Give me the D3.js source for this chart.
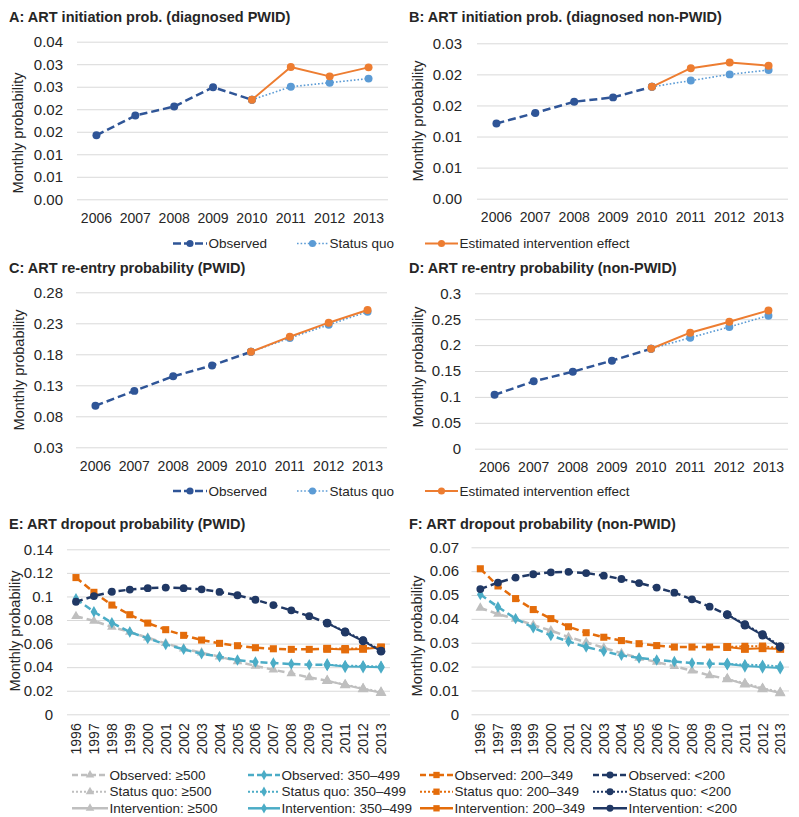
<!DOCTYPE html>
<html><head><meta charset="utf-8">
<script src="https://cdn.jsdelivr.net/npm/d3@7"></script>
<style>
body{margin:0;background:#fff}
svg{display:block}
text{font-family:"Liberation Sans",Arial,sans-serif;fill:#262626}
</style>
</head><body>
<svg id="c" width="799" height="817"></svg>
<script>
// ---------- DATA ----------
const yearsAD = ["2006","2007","2008","2009","2010","2011","2012","2013"];
const obsYearsAD = ["2006","2007","2008","2009","2010"];
const projYearsAD = ["2010","2011","2012","2013"];

const yearsEF = ["1996","1997","1998","1999","2000","2001","2002","2003","2004","2005","2006","2007","2008","2009","2010","2011","2012","2013"];
const obsYearsEF = yearsEF.slice(0, 15);
const projYearsEF = ["2010","2011","2012","2013"];

// Panel A
const aObserved = [0.0142, 0.0186, 0.0206, 0.0249, 0.0221];
const aStatusQuo = [0.0221, 0.0250, 0.0259, 0.0268];
const aIntervention = [0.0221, 0.0294, 0.0273, 0.0293];
const aTicks = [0, 0.005, 0.01, 0.015, 0.02, 0.025, 0.03, 0.035];
const aTickLabels = ["0.00","0.01","0.01","0.02","0.02","0.03","0.03","0.04"];

// Panel B
const bObserved = [0.0121, 0.0138, 0.0156, 0.0163, 0.0180];
const bStatusQuo = [0.0180, 0.0190, 0.0200, 0.0207];
const bIntervention = [0.0180, 0.0210, 0.0219, 0.0214];
const bTicks = [0, 0.005, 0.01, 0.015, 0.02, 0.025];
const bTickLabels = ["0.00","0.01","0.01","0.02","0.02","0.03"];

// Panel C
const cObserved = [0.097, 0.121, 0.1445, 0.162, 0.184];
const cStatusQuo = [0.184, 0.2063, 0.2277, 0.2487];
const cIntervention = [0.184, 0.2084, 0.231, 0.2515];
const cTicks = [0.03, 0.08, 0.13, 0.18, 0.23, 0.28];
const cTickLabels = ["0.03","0.08","0.13","0.18","0.23","0.28"];

// Panel D
const dObserved = [0.104, 0.130, 0.1486, 0.170, 0.193];
const dStatusQuo = [0.193, 0.2143, 0.235, 0.2568];
const dIntervention = [0.193, 0.224, 0.245, 0.267];
const dTicks = [0, 0.05, 0.1, 0.15, 0.2, 0.25, 0.3];
const dTickLabels = ["0","0.05","0.1","0.15","0.2","0.25","0.3"];

// Panel E (PWID dropout) by CD4 group
const eObs500 = [0.0832,0.0792,0.0741,0.0699,0.0650,0.0602,0.0557,0.0523,0.0489,0.0449,0.0410,0.0378,0.0347,0.0313,0.0284];
const eSq500 = [0.0284,0.0252,0.0220,0.0190];
const eInt500 = [0.0284,0.0248,0.0214,0.0183];
const eObs350 = [0.0980,0.0870,0.0777,0.0698,0.0644,0.0593,0.0551,0.0514,0.0489,0.0460,0.0444,0.0435,0.0427,0.0421,0.0421];
const eSq350 = [0.0421,0.0412,0.0410,0.0405];
const eInt350 = [0.0421,0.0405,0.0403,0.0400];
const eObs200 = [0.1160,0.1035,0.0927,0.0845,0.0774,0.0718,0.0670,0.0630,0.0602,0.0582,0.0565,0.0556,0.0551,0.0551,0.0556];
const eSq200 = [0.0556,0.0558,0.0560,0.0570];
const eInt200 = [0.0556,0.0550,0.0555,0.0566];
const eObsLow = [0.0955,0.1003,0.1040,0.1058,0.1070,0.1075,0.1070,0.1060,0.1038,0.1010,0.0972,0.0927,0.0882,0.0833,0.0774];
const eSqLow = [0.0774,0.0703,0.0630,0.0540];
const eIntLow = [0.0774,0.0698,0.0622,0.0535];
const eTicks = [0,0.02,0.04,0.06,0.08,0.1,0.12,0.14];
const eTickLabels = ["0","0.02","0.04","0.06","0.08","0.1","0.12","0.14"];

// Panel F (non-PWID dropout)
const fObs500 = [0.0446,0.0420,0.0400,0.0374,0.0351,0.0324,0.0302,0.0279,0.0256,0.0236,0.0219,0.0201,0.0183,0.0163,0.0148];
const fSq500 = [0.0148,0.0130,0.0110,0.0093];
const fInt500 = [0.0148,0.0126,0.0106,0.0089];
const fObs350 = [0.0502,0.0450,0.0401,0.0363,0.0330,0.0305,0.0282,0.0264,0.0247,0.0236,0.0228,0.0221,0.0215,0.0212,0.0211];
const fSq350 = [0.0211,0.0208,0.0206,0.0201];
const fInt350 = [0.0211,0.0202,0.0198,0.0194];
const fObs200 = [0.0610,0.0538,0.0485,0.0439,0.0401,0.0367,0.0342,0.0323,0.0309,0.0296,0.0288,0.0282,0.0282,0.0282,0.0282];
const fSq200 = [0.0282,0.0285,0.0286,0.0277];
const fInt200 = [0.0282,0.0274,0.0277,0.0274];
const fObsLow = [0.0525,0.0552,0.0573,0.0587,0.0595,0.0597,0.0592,0.0581,0.0567,0.0550,0.0531,0.0510,0.0482,0.0451,0.0418];
const fSqLow = [0.0418,0.0378,0.0336,0.0286];
const fIntLow = [0.0418,0.0374,0.0332,0.0282];
const fTicks = [0,0.01,0.02,0.03,0.04,0.05,0.06,0.07];
const fTickLabels = ["0","0.01","0.02","0.03","0.04","0.05","0.06","0.07"];

const titles = [
  "A: ART initiation prob. (diagnosed PWID)",
  "B: ART initiation prob. (diagnosed non-PWID)",
  "C: ART re-entry probability (PWID)",
  "D: ART re-entry probability (non-PWID)",
  "E: ART dropout probability (PWID)",
  "F: ART dropout probability (non-PWID)"
];
const yAxisTitle = "Monthly probability";
const legendTop = ["Observed","Status quo","Estimated intervention effect"];
const groupNames = ["\u2265500","350\u2013499","200\u2013349","<200"];
const statusNames = ["Observed: ","Status quo: ","Intervention: "];

// ---------- STYLE ----------
const FONT = '"Liberation Sans", Arial, sans-serif';
const C_OBS = "#2F5597", C_SQ = "#5B9BD5", C_INT = "#ED7D31";
const groupColors = ["#BFBFBF","#4BACC6","#E46C0A","#203864"];
const groupSymbols = [d3.symbolTriangle, d3.symbolDiamond, d3.symbolSquare, d3.symbolCircle];
const groupSizes = [40, 38, 50, 48];

const svg = d3.select("#c");
svg.append("rect").attr("width",799).attr("height",817).attr("fill","#fff");

function drawPanel(p) {
  const g = svg.append("g");
  const x = d3.scaleBand().domain(p.cats).range([p.left, p.right]);
  const y = d3.scaleLinear().domain(p.domain).range([p.bottom, p.top]);
  // gridlines
  g.append("g").attr("transform", `translate(${p.left},0)`)
    .call(d3.axisLeft(y).tickValues(p.ticks).tickSize(-(p.right - p.left)).tickFormat(""))
    .call(a => { a.select(".domain").remove(); a.selectAll("line").attr("stroke", "#D9D9D9").attr("stroke-width", 1); });
  // y tick labels
  g.append("g").attr("transform", `translate(${p.left},0)`)
    .call(d3.axisLeft(y).tickValues(p.ticks).tickSize(0).tickPadding(p.ypad).tickFormat((d, i) => p.labels[i]))
    .call(a => { a.select(".domain").remove(); a.attr("font-family", FONT).attr("font-size", 15);
      a.selectAll("text").attr("fill", "#262626"); });
  // x tick labels
  const xa = g.append("g").attr("transform", `translate(0,${p.bottom})`)
    .call(d3.axisBottom(x).tickSize(0).tickPadding(13.5))
    .call(a => { a.select(".domain").remove(); a.attr("font-family", FONT).attr("font-size", 14);
      a.selectAll("text").attr("fill", "#262626"); });
  if (p.rotate) {
    xa.selectAll("text").attr("y", 0).attr("x", -9).attr("dy", "0.36em")
      .attr("transform", "rotate(-90)").style("text-anchor", "end");
  }
  // title
  g.append("text").attr("x", p.tx).attr("y", p.ty).attr("font-size", 14.5).attr("font-weight", "bold")
    .text(p.title);
  // y axis title
  g.append("text").attr("transform", `translate(${p.yx},${p.yy}) rotate(-90)`)
    .attr("text-anchor", "middle").attr("dy", "0.35em").attr("font-size", 14.5).text(yAxisTitle);
  return { g, x, y };
}

function drawSeries(ctx, cats, vals, color, width, dash, sym, size) {
  const { g, x, y } = ctx;
  const pts = cats.map((c, i) => ({ c, v: vals[i] }));
  const cx = d => x(d.c) + x.bandwidth() / 2;
  g.append("path").datum(pts)
    .attr("d", d3.line().x(cx).y(d => y(d.v)))
    .attr("fill", "none").attr("stroke", color).attr("stroke-width", width)
    .attr("stroke-dasharray", dash).attr("stroke-linejoin", "round");
  g.selectAll(null).data(pts).enter().append("path")
    .attr("transform", d => `translate(${cx(d)},${y(d.v)})`)
    .attr("d", d3.symbol().type(sym).size(size)).attr("fill", color);
}

function drawAD(p, obs, sq, int) {
  const ctx = drawPanel(p);
  drawSeries(ctx, obsYearsAD, obs, C_OBS, 2.5, "8,4", d3.symbolCircle, 50);
  drawSeries(ctx, projYearsAD, sq, C_SQ, 1.6, "1.6,2", d3.symbolCircle, 50);
  drawSeries(ctx, projYearsAD, int, C_INT, 2, null, d3.symbolCircle, 50);
}

drawAD({ title: titles[0], tx: 9, ty: 22, cats: yearsAD, left: 77, right: 388, top: 41.7, bottom: 199.3,
  domain: [0, 0.035], ticks: aTicks, labels: aTickLabels, ypad: 14, yx: 18, yy: 133 }, aObserved, aStatusQuo, aIntervention);
drawAD({ title: titles[1], tx: 409, ty: 22, cats: yearsAD, left: 477, right: 788, top: 43.3, bottom: 198.7,
  domain: [0, 0.025], ticks: bTicks, labels: bTickLabels, ypad: 15, yx: 418, yy: 121 }, bObserved, bStatusQuo, bIntervention);
drawAD({ title: titles[2], tx: 9, ty: 273, cats: yearsAD, left: 76, right: 387, top: 292.3, bottom: 447.3,
  domain: [0.03, 0.28], ticks: cTicks, labels: cTickLabels, ypad: 13, yx: 19, yy: 370 }, cObserved, cStatusQuo, cIntervention);
drawAD({ title: titles[3], tx: 409, ty: 273, cats: yearsAD, left: 475, right: 788, top: 293.3, bottom: 448.7,
  domain: [0, 0.3], ticks: dTicks, labels: dTickLabels, ypad: 14, yx: 418, yy: 367 }, dObserved, dStatusQuo, dIntervention);

function drawEF(p, groups) {
  const ctx = drawPanel(p);
  groups.forEach((gr, i) => {
    drawSeries(ctx, obsYearsEF, gr[0], groupColors[i], 2.5, "7,4", groupSymbols[i], groupSizes[i]);
    drawSeries(ctx, projYearsEF, gr[1], groupColors[i], 2, "2,2", groupSymbols[i], groupSizes[i]);
    drawSeries(ctx, projYearsEF, gr[2], groupColors[i], 2, null, groupSymbols[i], groupSizes[i] + 12);
  });
}

drawEF({ title: titles[4], tx: 9, ty: 529, cats: yearsEF, left: 67, right: 390, top: 549.3, bottom: 714.3,
  domain: [0, 0.14], ticks: eTicks, labels: eTickLabels, ypad: 14, yx: 14.5, yy: 631, rotate: true },
  [[eObs500, eSq500, eInt500], [eObs350, eSq350, eInt350], [eObs200, eSq200, eInt200], [eObsLow, eSqLow, eIntLow]]);
drawEF({ title: titles[5], tx: 409, ty: 529, cats: yearsEF, left: 471.5, right: 789, top: 547.3, bottom: 714.3,
  domain: [0, 0.07], ticks: fTicks, labels: fTickLabels, ypad: 12.5, yx: 417, yy: 636, rotate: true },
  [[fObs500, fSq500, fInt500], [fObs350, fSq350, fInt350], [fObs200, fSq200, fInt200], [fObsLow, fSqLow, fIntLow]]);

// ---------- LEGENDS ----------
function legendItem(x1, x2, yc, color, width, dash, sym, size, label) {
  const g = svg.append("g");
  g.append("line").attr("x1", x1).attr("x2", x2).attr("y1", yc).attr("y2", yc)
    .attr("stroke", color).attr("stroke-width", width).attr("stroke-dasharray", dash);
  g.append("path").attr("transform", `translate(${(x1 + x2) / 2},${yc})`)
    .attr("d", d3.symbol().type(sym).size(size)).attr("fill", color);
  g.append("text").attr("x", x2 + 1.5).attr("y", yc).attr("dy", "0.35em").attr("font-size", 13.5).text(label);
}
[243.5, 491].forEach(yc => {
  legendItem(173, 207, yc, C_OBS, 2.5, "8,3", d3.symbolCircle, 40, legendTop[0]);
  legendItem(297, 328, yc, C_SQ, 1.6, "1.6,2", d3.symbolCircle, 40, legendTop[1]);
  legendItem(425, 458, yc, C_INT, 2, null, d3.symbolCircle, 40, legendTop[2]);
});
const colX = [[72, 108], [248, 280], [420, 453], [593, 627]];
const rowY = [775, 791.7, 808.3];
const rowStyle = [[2.5, "6,3"], [2, "2,2"], [2.5, null]];
groupNames.forEach((gn, i) => {
  statusNames.forEach((sn, r) => {
    legendItem(colX[i][0], colX[i][1], rowY[r], groupColors[i], rowStyle[r][0], rowStyle[r][1],
      groupSymbols[i], groupSizes[i] * 0.8, sn + gn);
  });
});
</script>
</body></html>
